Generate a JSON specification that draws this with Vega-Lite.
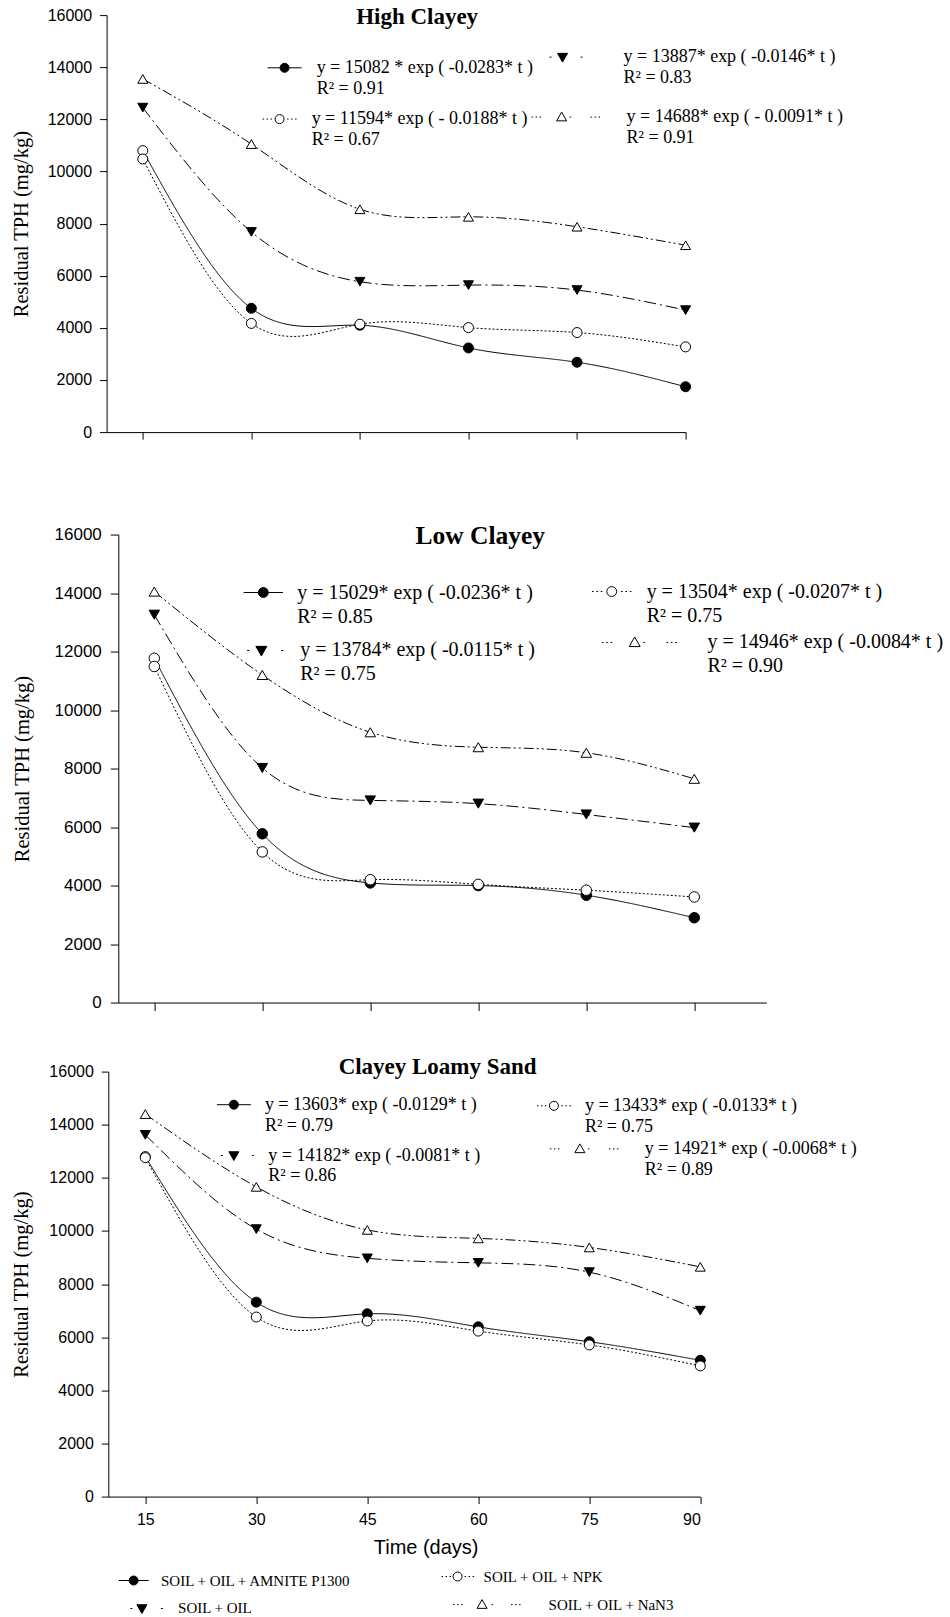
{
  "$schema": "https://vega.github.io/schema/vega-lite/v6.json",
  "background": "white",
  "padding": {"left": 10.6, "top": 5.1, "right": 0, "bottom": 0},
  "config": {
    "view": {"stroke": null},
    "axis": {"domainColor": "black", "tickColor": "black", "labelColor": "black", "titleColor": "black", "grid": false, "domainWidth": 1, "tickWidth": 1, "labelFont": "Liberation Sans"}
  },
  "data": {"values": [
    {"soil": "High Clayey", "series": "SOIL + OIL + AMNITE P1300", "day": 15, "tph": 10800},
    {"soil": "High Clayey", "series": "SOIL + OIL + AMNITE P1300", "day": 30, "tph": 4750},
    {"soil": "High Clayey", "series": "SOIL + OIL + AMNITE P1300", "day": 45, "tph": 4100},
    {"soil": "High Clayey", "series": "SOIL + OIL + AMNITE P1300", "day": 60, "tph": 3230},
    {"soil": "High Clayey", "series": "SOIL + OIL + AMNITE P1300", "day": 75, "tph": 2680},
    {"soil": "High Clayey", "series": "SOIL + OIL + AMNITE P1300", "day": 90, "tph": 1740},
    {"soil": "High Clayey", "series": "SOIL + OIL", "day": 15, "tph": 12450},
    {"soil": "High Clayey", "series": "SOIL + OIL", "day": 30, "tph": 7680},
    {"soil": "High Clayey", "series": "SOIL + OIL", "day": 45, "tph": 5770},
    {"soil": "High Clayey", "series": "SOIL + OIL", "day": 60, "tph": 5640},
    {"soil": "High Clayey", "series": "SOIL + OIL", "day": 75, "tph": 5450},
    {"soil": "High Clayey", "series": "SOIL + OIL", "day": 90, "tph": 4680},
    {"soil": "High Clayey", "series": "SOIL + OIL + NaN3", "day": 15, "tph": 13550},
    {"soil": "High Clayey", "series": "SOIL + OIL + NaN3", "day": 30, "tph": 11050},
    {"soil": "High Clayey", "series": "SOIL + OIL + NaN3", "day": 45, "tph": 8550},
    {"soil": "High Clayey", "series": "SOIL + OIL + NaN3", "day": 60, "tph": 8260},
    {"soil": "High Clayey", "series": "SOIL + OIL + NaN3", "day": 75, "tph": 7880},
    {"soil": "High Clayey", "series": "SOIL + OIL + NaN3", "day": 90, "tph": 7170},
    {"soil": "High Clayey", "series": "SOIL + OIL + NPK", "day": 15, "tph": 10480},
    {"soil": "High Clayey", "series": "SOIL + OIL + NPK", "day": 30, "tph": 4170},
    {"soil": "High Clayey", "series": "SOIL + OIL + NPK", "day": 45, "tph": 4140},
    {"soil": "High Clayey", "series": "SOIL + OIL + NPK", "day": 60, "tph": 4010},
    {"soil": "High Clayey", "series": "SOIL + OIL + NPK", "day": 75, "tph": 3820},
    {"soil": "High Clayey", "series": "SOIL + OIL + NPK", "day": 90, "tph": 3270},
    {"soil": "Low Clayey", "series": "SOIL + OIL + AMNITE P1300", "day": 15, "tph": 11770},
    {"soil": "Low Clayey", "series": "SOIL + OIL + AMNITE P1300", "day": 30, "tph": 5770},
    {"soil": "Low Clayey", "series": "SOIL + OIL + AMNITE P1300", "day": 45, "tph": 4090},
    {"soil": "Low Clayey", "series": "SOIL + OIL + AMNITE P1300", "day": 60, "tph": 4000},
    {"soil": "Low Clayey", "series": "SOIL + OIL + AMNITE P1300", "day": 75, "tph": 3670},
    {"soil": "Low Clayey", "series": "SOIL + OIL + AMNITE P1300", "day": 90, "tph": 2900},
    {"soil": "Low Clayey", "series": "SOIL + OIL", "day": 15, "tph": 13260},
    {"soil": "Low Clayey", "series": "SOIL + OIL", "day": 30, "tph": 8020},
    {"soil": "Low Clayey", "series": "SOIL + OIL", "day": 45, "tph": 6910},
    {"soil": "Low Clayey", "series": "SOIL + OIL", "day": 60, "tph": 6800},
    {"soil": "Low Clayey", "series": "SOIL + OIL", "day": 75, "tph": 6430},
    {"soil": "Low Clayey", "series": "SOIL + OIL", "day": 90, "tph": 5980},
    {"soil": "Low Clayey", "series": "SOIL + OIL + NaN3", "day": 15, "tph": 14050},
    {"soil": "Low Clayey", "series": "SOIL + OIL + NaN3", "day": 30, "tph": 11200},
    {"soil": "Low Clayey", "series": "SOIL + OIL + NaN3", "day": 45, "tph": 9240},
    {"soil": "Low Clayey", "series": "SOIL + OIL + NaN3", "day": 60, "tph": 8730},
    {"soil": "Low Clayey", "series": "SOIL + OIL + NaN3", "day": 75, "tph": 8540},
    {"soil": "Low Clayey", "series": "SOIL + OIL + NaN3", "day": 90, "tph": 7650},
    {"soil": "Low Clayey", "series": "SOIL + OIL + NPK", "day": 15, "tph": 11490},
    {"soil": "Low Clayey", "series": "SOIL + OIL + NPK", "day": 30, "tph": 5150},
    {"soil": "Low Clayey", "series": "SOIL + OIL + NPK", "day": 45, "tph": 4200},
    {"soil": "Low Clayey", "series": "SOIL + OIL + NPK", "day": 60, "tph": 4040},
    {"soil": "Low Clayey", "series": "SOIL + OIL + NPK", "day": 75, "tph": 3840},
    {"soil": "Low Clayey", "series": "SOIL + OIL + NPK", "day": 90, "tph": 3610},
    {"soil": "Clayey Loamy Sand", "series": "SOIL + OIL + AMNITE P1300", "day": 15, "tph": 12800},
    {"soil": "Clayey Loamy Sand", "series": "SOIL + OIL + AMNITE P1300", "day": 30, "tph": 7320},
    {"soil": "Clayey Loamy Sand", "series": "SOIL + OIL + AMNITE P1300", "day": 45, "tph": 6880},
    {"soil": "Clayey Loamy Sand", "series": "SOIL + OIL + AMNITE P1300", "day": 60, "tph": 6390},
    {"soil": "Clayey Loamy Sand", "series": "SOIL + OIL + AMNITE P1300", "day": 75, "tph": 5830},
    {"soil": "Clayey Loamy Sand", "series": "SOIL + OIL + AMNITE P1300", "day": 90, "tph": 5130},
    {"soil": "Clayey Loamy Sand", "series": "SOIL + OIL", "day": 15, "tph": 13620},
    {"soil": "Clayey Loamy Sand", "series": "SOIL + OIL", "day": 30, "tph": 10070},
    {"soil": "Clayey Loamy Sand", "series": "SOIL + OIL", "day": 45, "tph": 8970},
    {"soil": "Clayey Loamy Sand", "series": "SOIL + OIL", "day": 60, "tph": 8800},
    {"soil": "Clayey Loamy Sand", "series": "SOIL + OIL", "day": 75, "tph": 8450},
    {"soil": "Clayey Loamy Sand", "series": "SOIL + OIL", "day": 90, "tph": 7000},
    {"soil": "Clayey Loamy Sand", "series": "SOIL + OIL + NaN3", "day": 15, "tph": 14400},
    {"soil": "Clayey Loamy Sand", "series": "SOIL + OIL + NaN3", "day": 30, "tph": 11660},
    {"soil": "Clayey Loamy Sand", "series": "SOIL + OIL + NaN3", "day": 45, "tph": 10040},
    {"soil": "Clayey Loamy Sand", "series": "SOIL + OIL + NaN3", "day": 60, "tph": 9720},
    {"soil": "Clayey Loamy Sand", "series": "SOIL + OIL + NaN3", "day": 75, "tph": 9380},
    {"soil": "Clayey Loamy Sand", "series": "SOIL + OIL + NaN3", "day": 90, "tph": 8650},
    {"soil": "Clayey Loamy Sand", "series": "SOIL + OIL + NPK", "day": 15, "tph": 12760},
    {"soil": "Clayey Loamy Sand", "series": "SOIL + OIL + NPK", "day": 30, "tph": 6760},
    {"soil": "Clayey Loamy Sand", "series": "SOIL + OIL + NPK", "day": 45, "tph": 6610},
    {"soil": "Clayey Loamy Sand", "series": "SOIL + OIL + NPK", "day": 60, "tph": 6230},
    {"soil": "Clayey Loamy Sand", "series": "SOIL + OIL + NPK", "day": 75, "tph": 5710},
    {"soil": "Clayey Loamy Sand", "series": "SOIL + OIL + NPK", "day": 90, "tph": 4920}
  ]},
  "columns": 1,
  "align": "none",
  "spacing": {"row": 44.5, "column": 0},
  "resolve": {"scale": {"shape": "independent", "fill": "independent", "size": "independent", "strokeDash": "independent"}, "legend": {"shape": "independent", "fill": "independent", "size": "independent", "strokeDash": "independent"}},
  "concat": [
    {
      "columns": 1,
      "align": "none",
      "spacing": {"row": 83.45, "column": 0},
      "resolve": {"scale": {"shape": "independent", "fill": "independent", "size": "independent", "strokeDash": "independent"}, "legend": {"shape": "independent", "fill": "independent", "size": "independent", "strokeDash": "independent"}},
      "concat": [
        {
          "width": 579, "height": 417,
          "title": {"text": "High Clayey", "anchor": "middle", "frame": "group", "baseline": "middle", "offset": -10, "dx": 21, "dy": 22.5, "font": "Liberation Serif", "fontSize": 23, "fontWeight": "bold", "color": "black"},
          "encoding": {
            "x": {"field": "day", "type": "quantitative", "scale": {"domain": [10, 90], "nice": false}, "axis": {"values": [15, 30, 45, 60, 75, 90], "labels": false, "tickSize": 7, "title": null}},
            "y": {"field": "tph", "type": "quantitative", "scale": {"domain": [0, 16000], "nice": false}, "axis": {"values": [0, 2000, 4000, 6000, 8000, 10000, 12000, 14000, 16000], "format": "d", "tickSize": 7, "labelPadding": 8, "labelFontSize": 16, "title": "Residual TPH (mg/kg)", "titleFont": "Liberation Serif", "titleFontSize": 20.5, "titleFontWeight": "normal", "titlePadding": 16}}
          },
          "layer": [
            {"transform": [{"filter": "datum.soil === 'High Clayey'"}],
             "mark": {"type": "line", "interpolate": "natural", "strokeWidth": 1, "color": "black"},
             "encoding": {"strokeDash": {"field": "series", "type": "nominal", "scale": {"domain": ["SOIL + OIL + NPK", "SOIL + OIL + AMNITE P1300", "SOIL + OIL", "SOIL + OIL + NaN3"], "range": [[2, 2], [1, 0], [12, 4, 2, 4], [10, 3, 2, 3, 2, 3]]}, "legend": null}}},
            {"transform": [{"filter": "datum.soil === 'High Clayey'"}],
             "mark": {"type": "point", "filled": true, "stroke": "black", "strokeWidth": 1, "opacity": 1},
             "encoding": {
               "shape": {"field": "series", "type": "nominal", "scale": {"domain": ["SOIL + OIL + AMNITE P1300", "SOIL + OIL + NPK", "SOIL + OIL", "SOIL + OIL + NaN3"], "range": ["circle", "circle", "triangle-down", "triangle-up"]}, "legend": null},
               "fill": {"condition": {"test": "datum.series === 'SOIL + OIL + AMNITE P1300' && datum.day === 15", "value": "white"}, "field": "series", "type": "nominal", "scale": {"domain": ["SOIL + OIL", "SOIL + OIL + AMNITE P1300", "SOIL + OIL + NPK", "SOIL + OIL + NaN3"], "range": ["black", "black", "white", "white"]}, "legend": null},
               "size": {"field": "series", "type": "nominal", "scale": {"domain": ["SOIL + OIL + NaN3", "SOIL + OIL", "SOIL + OIL + AMNITE P1300", "SOIL + OIL + NPK"], "range": [100, 100, 75, 75]}, "legend": null}
             }},
            {"transform": [{"filter": "datum.soil === 'High Clayey' && datum.day === 15 && datum.series === 'SOIL + OIL'"}], "mark": {"type": "point", "shape": "M-3.4,0H-0.9M0.9,0H3.4M-0.9,0A0.9,0.9,0,1,0,0.9,0A0.9,0.9,0,1,0,-0.9,0Z", "size": 100, "filled": true, "fill": "black", "stroke": "black", "strokeWidth": 1, "opacity": 1},
             "encoding": {"x": {"datum": 34.59, "type": "quantitative"}, "y": {"datum": 13978, "type": "quantitative"}}},
            {"transform": [{"filter": "datum.soil === 'High Clayey' && datum.day === 15 && datum.series === 'SOIL + OIL'"}], "mark": {"type": "text", "align": "left", "baseline": "middle", "lineHeight": 21, "font": "Liberation Serif", "fontSize": 18, "color": "black"},
             "encoding": {"x": {"datum": 39.02, "type": "quantitative"}, "y": {"datum": 13978, "type": "quantitative"}, "text": {"value": ["y = 15082 * exp ( -0.0283* t )", "R² = 0.91"]}}},
            {"transform": [{"filter": "datum.soil === 'High Clayey' && datum.day === 15 && datum.series === 'SOIL + OIL'"}], "mark": {"type": "point", "shape": "M-2.6,0H-2.2M3.6,0H4M-1,-0.75H1L0,1Z", "size": 100, "filled": true, "fill": "black", "stroke": "black", "strokeWidth": 1, "opacity": 1},
             "encoding": {"x": {"datum": 73.0, "type": "quantitative"}, "y": {"datum": 14388, "type": "quantitative"}}},
            {"transform": [{"filter": "datum.soil === 'High Clayey' && datum.day === 15 && datum.series === 'SOIL + OIL'"}], "mark": {"type": "text", "align": "left", "baseline": "middle", "lineHeight": 21, "font": "Liberation Serif", "fontSize": 18, "color": "black"},
             "encoding": {"x": {"datum": 81.43, "type": "quantitative"}, "y": {"datum": 14388, "type": "quantitative"}, "text": {"value": ["y = 13887* exp ( -0.0146* t )", "R² = 0.83"]}}},
            {"transform": [{"filter": "datum.soil === 'High Clayey' && datum.day === 15 && datum.series === 'SOIL + OIL'"}], "mark": {"type": "point", "shape": "M-3.4,0H-3.1M-2.6,0H-2.3M-1.8,0H-1.5M1.5,0H1.8M2.3,0H2.6M3.1,0H3.4M-0.9,0A0.9,0.9,0,1,0,0.9,0A0.9,0.9,0,1,0,-0.9,0Z", "size": 100, "filled": true, "fill": "white", "stroke": "black", "strokeWidth": 1, "opacity": 1},
             "encoding": {"x": {"datum": 33.90, "type": "quantitative"}, "y": {"datum": 12010, "type": "quantitative"}}},
            {"transform": [{"filter": "datum.soil === 'High Clayey' && datum.day === 15 && datum.series === 'SOIL + OIL'"}], "mark": {"type": "text", "align": "left", "baseline": "middle", "lineHeight": 21, "font": "Liberation Serif", "fontSize": 18, "color": "black"},
             "encoding": {"x": {"datum": 38.33, "type": "quantitative"}, "y": {"datum": 12010, "type": "quantitative"}, "text": {"value": ["y = 11594* exp ( - 0.0188* t )", "R² = 0.67"]}}},
            {"transform": [{"filter": "datum.soil === 'High Clayey' && datum.day === 15 && datum.series === 'SOIL + OIL'"}], "mark": {"type": "point", "shape": "M-6,0H-5.7M-5.2,0H-4.9M-4.4,0H-4.1M1.6,0H1.9M5.8,0H6.1M6.6,0H6.9M7.4,0H7.7M-1,0.75H1L0,-1Z", "size": 100, "filled": true, "fill": "white", "stroke": "black", "strokeWidth": 1, "opacity": 1},
             "encoding": {"x": {"datum": 72.87, "type": "quantitative"}, "y": {"datum": 12086, "type": "quantitative"}}},
            {"transform": [{"filter": "datum.soil === 'High Clayey' && datum.day === 15 && datum.series === 'SOIL + OIL'"}], "mark": {"type": "text", "align": "left", "baseline": "middle", "lineHeight": 21, "font": "Liberation Serif", "fontSize": 18, "color": "black"},
             "encoding": {"x": {"datum": 81.85, "type": "quantitative"}, "y": {"datum": 12086, "type": "quantitative"}, "text": {"value": ["y = 14688* exp ( - 0.0091* t )", "R² = 0.91"]}}}
          ]
        },
        {
          "width": 659.7, "height": 468,
          "title": {"text": "Low Clayey", "anchor": "middle", "frame": "group", "baseline": "middle", "offset": -10, "dx": 43.85, "dy": 25.7, "font": "Liberation Serif", "fontSize": 25.5, "fontWeight": "bold", "color": "black"},
          "encoding": {
            "x": {"field": "day", "type": "quantitative", "scale": {"domain": [10, 100], "range": [11.7, 659.7], "nice": false}, "axis": {"values": [15, 30, 45, 60, 75, 90], "labels": false, "tickSize": 8, "title": null}},
            "y": {"field": "tph", "type": "quantitative", "scale": {"domain": [0, 16000], "nice": false}, "axis": {"offset": -11.7, "values": [0, 2000, 4000, 6000, 8000, 10000, 12000, 14000, 16000], "format": "d", "tickSize": 8, "labelPadding": 9, "labelFontSize": 17, "title": "Residual TPH (mg/kg)", "titleFont": "Liberation Serif", "titleFontSize": 20.5, "titleFontWeight": "normal", "titlePadding": 21.5}}
          },
          "layer": [
            {"transform": [{"filter": "datum.soil === 'Low Clayey'"}],
             "mark": {"type": "line", "interpolate": "natural", "strokeWidth": 1, "color": "black"},
             "encoding": {"strokeDash": {"field": "series", "type": "nominal", "scale": {"domain": ["SOIL + OIL + NPK", "SOIL + OIL + AMNITE P1300", "SOIL + OIL", "SOIL + OIL + NaN3"], "range": [[2, 2], [1, 0], [12, 4, 2, 4], [10, 3, 2, 3, 2, 3]]}, "legend": null}}},
            {"transform": [{"filter": "datum.soil === 'Low Clayey'"}],
             "mark": {"type": "point", "filled": true, "stroke": "black", "strokeWidth": 1, "opacity": 1},
             "encoding": {
               "shape": {"field": "series", "type": "nominal", "scale": {"domain": ["SOIL + OIL + AMNITE P1300", "SOIL + OIL + NPK", "SOIL + OIL", "SOIL + OIL + NaN3"], "range": ["circle", "circle", "triangle-down", "triangle-up"]}, "legend": null},
               "fill": {"condition": {"test": "datum.series === 'SOIL + OIL + AMNITE P1300' && datum.day === 15", "value": "white"}, "field": "series", "type": "nominal", "scale": {"domain": ["SOIL + OIL", "SOIL + OIL + AMNITE P1300", "SOIL + OIL + NPK", "SOIL + OIL + NaN3"], "range": ["black", "black", "white", "white"]}, "legend": null},
               "size": {"field": "series", "type": "nominal", "scale": {"domain": ["SOIL + OIL + NaN3", "SOIL + OIL", "SOIL + OIL + AMNITE P1300", "SOIL + OIL + NPK"], "range": [110, 110, 80, 80]}, "legend": null}
             }},
            {"transform": [{"filter": "datum.soil === 'Low Clayey' && datum.day === 15 && datum.series === 'SOIL + OIL'"}], "mark": {"type": "point", "shape": "M-3.6,0H-0.9M0.9,0H3.6M-0.9,0A0.9,0.9,0,1,0,0.9,0A0.9,0.9,0,1,0,-0.9,0Z", "size": 120, "filled": true, "fill": "black", "stroke": "black", "strokeWidth": 1, "opacity": 1},
             "encoding": {"x": {"datum": 30.14, "type": "quantitative"}, "y": {"datum": 14018, "type": "quantitative"}}},
            {"transform": [{"filter": "datum.soil === 'Low Clayey' && datum.day === 15 && datum.series === 'SOIL + OIL'"}], "mark": {"type": "text", "align": "left", "baseline": "middle", "lineHeight": 24, "font": "Liberation Serif", "fontSize": 20, "color": "black"},
             "encoding": {"x": {"datum": 34.86, "type": "quantitative"}, "y": {"datum": 14018, "type": "quantitative"}, "text": {"value": ["y = 15029* exp ( -0.0236* t )", "R² = 0.85"]}}},
            {"transform": [{"filter": "datum.soil === 'Low Clayey' && datum.day === 15 && datum.series === 'SOIL + OIL'"}], "mark": {"type": "point", "shape": "M-2.6,0H-2.2M3.6,0H4M-1,-0.75H1L0,1Z", "size": 120, "filled": true, "fill": "black", "stroke": "black", "strokeWidth": 1, "opacity": 1},
             "encoding": {"x": {"datum": 29.87, "type": "quantitative"}, "y": {"datum": 12037, "type": "quantitative"}}},
            {"transform": [{"filter": "datum.soil === 'Low Clayey' && datum.day === 15 && datum.series === 'SOIL + OIL'"}], "mark": {"type": "text", "align": "left", "baseline": "middle", "lineHeight": 24, "font": "Liberation Serif", "fontSize": 20, "color": "black"},
             "encoding": {"x": {"datum": 35.27, "type": "quantitative"}, "y": {"datum": 12037, "type": "quantitative"}, "text": {"value": ["y = 13784* exp ( -0.0115* t )", "R² = 0.75"]}}},
            {"transform": [{"filter": "datum.soil === 'Low Clayey' && datum.day === 15 && datum.series === 'SOIL + OIL'"}], "mark": {"type": "point", "shape": "M-3.6,0H-3.3M-2.8,0H-2.5M-2,0H-1.7M1.7,0H2M2.5,0H2.8M3.3,0H3.6M-0.9,0A0.9,0.9,0,1,0,0.9,0A0.9,0.9,0,1,0,-0.9,0Z", "size": 120, "filled": true, "fill": "white", "stroke": "black", "strokeWidth": 1, "opacity": 1},
             "encoding": {"x": {"datum": 78.53, "type": "quantitative"}, "y": {"datum": 14052, "type": "quantitative"}}},
            {"transform": [{"filter": "datum.soil === 'Low Clayey' && datum.day === 15 && datum.series === 'SOIL + OIL'"}], "mark": {"type": "text", "align": "left", "baseline": "middle", "lineHeight": 24, "font": "Liberation Serif", "fontSize": 20, "color": "black"},
             "encoding": {"x": {"datum": 83.38, "type": "quantitative"}, "y": {"datum": 14052, "type": "quantitative"}, "text": {"value": ["y = 13504* exp ( -0.0207* t )", "R² = 0.75"]}}},
            {"transform": [{"filter": "datum.soil === 'Low Clayey' && datum.day === 15 && datum.series === 'SOIL + OIL'"}], "mark": {"type": "point", "shape": "M-6,0H-5.7M-5.2,0H-4.9M-4.4,0H-4.1M1.6,0H1.9M5.8,0H6.1M6.6,0H6.9M7.4,0H7.7M-1,0.75H1L0,-1Z", "size": 120, "filled": true, "fill": "white", "stroke": "black", "strokeWidth": 1, "opacity": 1},
             "encoding": {"x": {"datum": 81.72, "type": "quantitative"}, "y": {"datum": 12310, "type": "quantitative"}}},
            {"transform": [{"filter": "datum.soil === 'Low Clayey' && datum.day === 15 && datum.series === 'SOIL + OIL'"}], "mark": {"type": "text", "align": "left", "baseline": "middle", "lineHeight": 24, "font": "Liberation Serif", "fontSize": 20, "color": "black"},
             "encoding": {"x": {"datum": 91.84, "type": "quantitative"}, "y": {"datum": 12310, "type": "quantitative"}, "text": {"value": ["y = 14946* exp ( -0.0084* t )", "R² = 0.90"]}}}
          ]
        }
      ]
    },
    {
      "width": 593.7, "height": 425,
      "title": {"text": "Clayey Loamy Sand", "anchor": "middle", "frame": "group", "baseline": "middle", "offset": -2, "dx": 34.15, "dy": 24.2, "font": "Liberation Serif", "fontSize": 23, "fontWeight": "bold", "color": "black"},
      "encoding": {
        "x": {"field": "day", "type": "quantitative", "scale": {"domain": [10, 90], "range": [1.7, 593.7], "nice": false}, "axis": {"values": [15, 30, 45, 60, 75, 90], "tickSize": 7, "labelPadding": 8, "labelFontSize": 16, "title": "Time (days)", "titleFont": "Liberation Sans", "titleFontSize": 20, "titleFontWeight": "normal", "titlePadding": 10, "titleX": 319}},
        "y": {"field": "tph", "type": "quantitative", "scale": {"domain": [0, 16000], "nice": false}, "axis": {"offset": -1.7, "values": [0, 2000, 4000, 6000, 8000, 10000, 12000, 14000, 16000], "format": "d", "tickSize": 7, "labelPadding": 8, "labelFontSize": 16, "title": "Residual TPH (mg/kg)", "titleFont": "Liberation Serif", "titleFontSize": 20.5, "titleFontWeight": "normal", "titlePadding": 17}}
      },
      "layer": [
        {"transform": [{"filter": "datum.soil === 'Clayey Loamy Sand'"}],
         "mark": {"type": "line", "interpolate": "natural", "strokeWidth": 1, "color": "black"},
         "encoding": {"strokeDash": {"field": "series", "type": "nominal", "scale": {"domain": ["SOIL + OIL + NPK", "SOIL + OIL + AMNITE P1300", "SOIL + OIL", "SOIL + OIL + NaN3"], "range": [[2, 2], [1, 0], [12, 4, 2, 4], [10, 3, 2, 3, 2, 3]]}, "legend": null}}},
        {"transform": [{"filter": "datum.soil === 'Clayey Loamy Sand'"}],
         "mark": {"type": "point", "filled": true, "stroke": "black", "strokeWidth": 1, "opacity": 1},
         "encoding": {
           "shape": {"field": "series", "type": "nominal", "scale": {"domain": ["SOIL + OIL + AMNITE P1300", "SOIL + OIL + NPK", "SOIL + OIL", "SOIL + OIL + NaN3"], "range": ["circle", "circle", "triangle-down", "triangle-up"]}, "legend": null},
           "fill": {"condition": {"test": "datum.series === 'SOIL + OIL + AMNITE P1300' && datum.day === 15", "value": "white"}, "field": "series", "type": "nominal", "scale": {"domain": ["SOIL + OIL", "SOIL + OIL + AMNITE P1300", "SOIL + OIL + NPK", "SOIL + OIL + NaN3"], "range": ["black", "black", "white", "white"]}, "legend": null},
           "size": {"field": "series", "type": "nominal", "scale": {"domain": ["SOIL + OIL + NaN3", "SOIL + OIL", "SOIL + OIL + AMNITE P1300", "SOIL + OIL + NPK"], "range": [100, 100, 75, 75]}, "legend": null}
         }},
        {"transform": [{"filter": "datum.soil === 'Clayey Loamy Sand' && datum.day === 15 && datum.series === 'SOIL + OIL'"}], "mark": {"type": "point", "shape": "M-3.4,0H-0.9M0.9,0H3.4M-0.9,0A0.9,0.9,0,1,0,0.9,0A0.9,0.9,0,1,0,-0.9,0Z", "size": 100, "filled": true, "fill": "black", "stroke": "black", "strokeWidth": 1, "opacity": 1},
         "encoding": {"x": {"datum": 26.97, "type": "quantitative"}, "y": {"datum": 14754, "type": "quantitative"}}},
        {"transform": [{"filter": "datum.soil === 'Clayey Loamy Sand' && datum.day === 15 && datum.series === 'SOIL + OIL'"}], "mark": {"type": "text", "align": "left", "baseline": "middle", "lineHeight": 21, "font": "Liberation Serif", "fontSize": 18, "color": "black"},
         "encoding": {"x": {"datum": 31.16, "type": "quantitative"}, "y": {"datum": 14754, "type": "quantitative"}, "text": {"value": ["y = 13603* exp ( -0.0129* t )", "R² = 0.79"]}}},
        {"transform": [{"filter": "datum.soil === 'Clayey Loamy Sand' && datum.day === 15 && datum.series === 'SOIL + OIL'"}], "mark": {"type": "point", "shape": "M-2.6,0H-2.2M3.6,0H4M-1,-0.75H1L0,1Z", "size": 100, "filled": true, "fill": "black", "stroke": "black", "strokeWidth": 1, "opacity": 1},
         "encoding": {"x": {"datum": 26.97, "type": "quantitative"}, "y": {"datum": 12841, "type": "quantitative"}}},
        {"transform": [{"filter": "datum.soil === 'Clayey Loamy Sand' && datum.day === 15 && datum.series === 'SOIL + OIL'"}], "mark": {"type": "text", "align": "left", "baseline": "middle", "lineHeight": 21, "font": "Liberation Serif", "fontSize": 18, "color": "black"},
         "encoding": {"x": {"datum": 31.62, "type": "quantitative"}, "y": {"datum": 12841, "type": "quantitative"}, "text": {"value": ["y = 14182* exp ( -0.0081* t )", "R² = 0.86"]}}},
        {"transform": [{"filter": "datum.soil === 'Clayey Loamy Sand' && datum.day === 15 && datum.series === 'SOIL + OIL'"}], "mark": {"type": "point", "shape": "M-3.4,0H-3.1M-2.6,0H-2.3M-1.8,0H-1.5M1.5,0H1.8M2.3,0H2.6M3.1,0H3.4M-0.9,0A0.9,0.9,0,1,0,0.9,0A0.9,0.9,0,1,0,-0.9,0Z", "size": 100, "filled": true, "fill": "white", "stroke": "black", "strokeWidth": 1, "opacity": 1},
         "encoding": {"x": {"datum": 70.22, "type": "quantitative"}, "y": {"datum": 14712, "type": "quantitative"}}},
        {"transform": [{"filter": "datum.soil === 'Clayey Loamy Sand' && datum.day === 15 && datum.series === 'SOIL + OIL'"}], "mark": {"type": "text", "align": "left", "baseline": "middle", "lineHeight": 21, "font": "Liberation Serif", "fontSize": 18, "color": "black"},
         "encoding": {"x": {"datum": 74.41, "type": "quantitative"}, "y": {"datum": 14712, "type": "quantitative"}, "text": {"value": ["y = 13433* exp ( -0.0133* t )", "R² = 0.75"]}}},
        {"transform": [{"filter": "datum.soil === 'Clayey Loamy Sand' && datum.day === 15 && datum.series === 'SOIL + OIL'"}], "mark": {"type": "point", "shape": "M-6,0H-5.7M-5.2,0H-4.9M-4.4,0H-4.1M1.6,0H1.9M5.8,0H6.1M6.6,0H6.9M7.4,0H7.7M-1,0.75H1L0,-1Z", "size": 100, "filled": true, "fill": "white", "stroke": "black", "strokeWidth": 1, "opacity": 1},
         "encoding": {"x": {"datum": 73.73, "type": "quantitative"}, "y": {"datum": 13090, "type": "quantitative"}}},
        {"transform": [{"filter": "datum.soil === 'Clayey Loamy Sand' && datum.day === 15 && datum.series === 'SOIL + OIL'"}], "mark": {"type": "text", "align": "left", "baseline": "middle", "lineHeight": 21, "font": "Liberation Serif", "fontSize": 18, "color": "black"},
         "encoding": {"x": {"datum": 82.51, "type": "quantitative"}, "y": {"datum": 13090, "type": "quantitative"}, "text": {"value": ["y = 14921* exp ( -0.0068* t )", "R² = 0.89"]}}},
        {"transform": [{"filter": "datum.soil === 'Clayey Loamy Sand' && datum.day === 15 && datum.series === 'SOIL + OIL'"}], "mark": {"type": "point", "shape": "M-3,0H-0.9M0.9,0H3M-0.9,0A0.9,0.9,0,1,0,0.9,0A0.9,0.9,0,1,0,-0.9,0Z", "size": 100, "filled": true, "fill": "black", "stroke": "black", "strokeWidth": 1, "opacity": 1},
         "encoding": {"x": {"datum": 13.42, "type": "quantitative"}, "y": {"datum": -3159, "type": "quantitative"}}},
        {"transform": [{"filter": "datum.soil === 'Clayey Loamy Sand' && datum.day === 15 && datum.series === 'SOIL + OIL'"}], "mark": {"type": "text", "align": "left", "baseline": "middle", "font": "Liberation Serif", "fontSize": 15, "color": "black"},
         "encoding": {"x": {"datum": 17.12, "type": "quantitative"}, "y": {"datum": -3159, "type": "quantitative"}, "text": {"value": "SOIL + OIL + AMNITE P1300"}}},
        {"transform": [{"filter": "datum.soil === 'Clayey Loamy Sand' && datum.day === 15 && datum.series === 'SOIL + OIL'"}], "mark": {"type": "point", "shape": "M-2.3,0H-1.9M3.8,0H4.2M-1,-0.75H1L0,1Z", "size": 100, "filled": true, "fill": "black", "stroke": "black", "strokeWidth": 1, "opacity": 1},
         "encoding": {"x": {"datum": 14.54, "type": "quantitative"}, "y": {"datum": -4213, "type": "quantitative"}}},
        {"transform": [{"filter": "datum.soil === 'Clayey Loamy Sand' && datum.day === 15 && datum.series === 'SOIL + OIL'"}], "mark": {"type": "text", "align": "left", "baseline": "middle", "font": "Liberation Serif", "fontSize": 15, "color": "black"},
         "encoding": {"x": {"datum": 19.43, "type": "quantitative"}, "y": {"datum": -4213, "type": "quantitative"}, "text": {"value": "SOIL + OIL"}}},
        {"transform": [{"filter": "datum.soil === 'Clayey Loamy Sand' && datum.day === 15 && datum.series === 'SOIL + OIL'"}], "mark": {"type": "point", "shape": "M-3.2,0H-2.9M-2.4,0H-2.1M-1.6,0H-1.3M1.4,0H1.7M2.2,0H2.5M3,0H3.3M-0.9,0A0.9,0.9,0,1,0,0.9,0A0.9,0.9,0,1,0,-0.9,0Z", "size": 100, "filled": true, "fill": "white", "stroke": "black", "strokeWidth": 1, "opacity": 1},
         "encoding": {"x": {"datum": 57.2, "type": "quantitative"}, "y": {"datum": -3009, "type": "quantitative"}}},
        {"transform": [{"filter": "datum.soil === 'Clayey Loamy Sand' && datum.day === 15 && datum.series === 'SOIL + OIL'"}], "mark": {"type": "text", "align": "left", "baseline": "middle", "font": "Liberation Serif", "fontSize": 15, "color": "black"},
         "encoding": {"x": {"datum": 60.72, "type": "quantitative"}, "y": {"datum": -3009, "type": "quantitative"}, "text": {"value": "SOIL + OIL + NPK"}}},
        {"transform": [{"filter": "datum.soil === 'Clayey Loamy Sand' && datum.day === 15 && datum.series === 'SOIL + OIL'"}], "mark": {"type": "point", "shape": "M-5.8,0H-5.5M-5,0H-4.7M-4.2,0H-3.9M1.9,0H2.2M5.8,0H6.1M6.6,0H6.9M7.4,0H7.7M-1,0.75H1L0,-1Z", "size": 100, "filled": true, "fill": "white", "stroke": "black", "strokeWidth": 1, "opacity": 1},
         "encoding": {"x": {"datum": 60.51, "type": "quantitative"}, "y": {"datum": -4066, "type": "quantitative"}}},
        {"transform": [{"filter": "datum.soil === 'Clayey Loamy Sand' && datum.day === 15 && datum.series === 'SOIL + OIL'"}], "mark": {"type": "text", "align": "left", "baseline": "middle", "font": "Liberation Serif", "fontSize": 15, "color": "black"},
         "encoding": {"x": {"datum": 69.5, "type": "quantitative"}, "y": {"datum": -4066, "type": "quantitative"}, "text": {"value": "SOIL + OIL + NaN3"}}}
      ]
    }
  ]
}
